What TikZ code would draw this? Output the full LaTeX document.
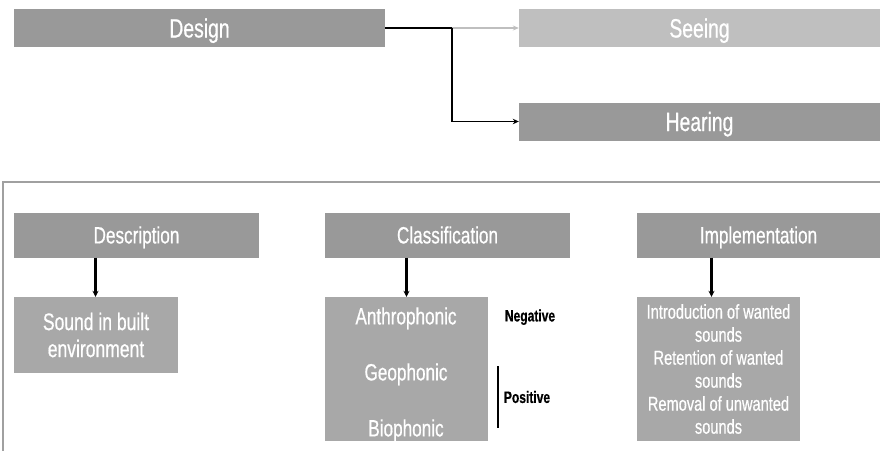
\documentclass[tikz,border=0pt]{standalone}
\usepackage{fontspec}
\setmainfont[FakeStretch=0.73, FakeBold=0.6]{Liberation Sans}
\usetikzlibrary{arrows.meta}
\definecolor{hdr}{HTML}{999999}
\definecolor{lst}{HTML}{A8A8A8}
\definecolor{lite}{HTML}{BFBFBF}
\definecolor{frm}{HTML}{A0A0A0}
\tikzset{
  box/.style={fill=hdr, draw=none, inner sep=0pt, text=white, align=center, text depth=0pt},
  bigbox/.style={box, text height=19pt, font=\fontsize{26.5}{30}\selectfont},
  headbox/.style={box, text height=16.8pt, minimum width=245pt, minimum height=45pt, font=\fontsize{23.5}{27}\selectfont},
  listbox/.style={fill=lst, draw=none, inner sep=0pt, text=white, align=center},
  item/.style={text height=16.8pt, text depth=0pt, text=white, inner sep=0pt, font=\fontsize{23.5}{27}\selectfont},
  tag/.style={text height=11.8pt, text depth=0pt, text=black, inner sep=0pt, font=\fontsize{16.5}{19}\selectfont\bfseries},
  conn/.style={line width=1.9pt, black},
  arr/.style={conn, -{Stealth[length=6pt,width=5.5pt]}},
  varr/.style={line width=2.2pt, black, -{Stealth[length=6pt,width=6pt]}}
}
\begin{document}
\begin{tikzpicture}[x=1pt,y=-1pt]
\useasboundingbox (0,0) rectangle (880,451);
% top part
\node[bigbox, minimum width=371pt, minimum height=38pt] (design) at (199.5,28) {Design};
\node[bigbox, fill=lite, minimum width=361pt, minimum height=38pt] (seeing) at (699.5,28) {Seeing};
\node[bigbox, minimum width=361pt, minimum height=38pt] (hearing) at (699.5,121.5) {Hearing};
\coordinate (j) at (452,28);
\draw[conn] (design.east) -- (j);
\draw[conn, lite, line width=1.4pt, -{Stealth[length=6pt,width=5pt]}] (j) -- (seeing.west);
\draw[arr] (j) -- (j |- hearing.west) -- (hearing.west);
% frame
\draw[frm, line width=1.2pt] (880,182) -- (3,182) -- (3,451);
% description
\node[headbox] (desc) at (136.5,235) {Description};
\node[listbox, minimum width=164pt, minimum height=76pt, font=\fontsize{24}{27}\selectfont] (sound) at (96,335) {Sound in built\\environment};
\coordinate (da) at ([xshift=-0.5pt]sound.north);
\draw[varr] (da |- desc.south) -- (da);
% classification
\node[headbox] (class) at (447.5,235) {Classification};
\node[listbox, minimum width=163pt, minimum height=144pt] (clist) at (406.5,369) {};
\node[item] (anthro) at (406,316) {Anthrophonic};
\node[item] (geo) at (406,372) {Geophonic};
\node[item] (bio) at (406,428) {Biophonic};
\draw[varr] (clist.north |- class.south) -- (clist.north);
\node[tag] (neg) at (530,315.5) {Negative};
\node[tag] (pos) at (527,397) {Positive};
\coordinate (pt) at (498,366);
\coordinate (pb) at (498,428);
\draw[line width=1.3pt] (pt) -- (pb);
% implementation
\node[headbox, minimum width=243pt] (impl) at (758.5,235) {Implementation};
\node[listbox, minimum width=163pt, minimum height=144pt, font=\fontsize{20}{23}\selectfont] (ilist) at (718.5,369) {Introduction of wanted\\sounds\\Retention of wanted\\sounds\\Removal of unwanted\\sounds};
\coordinate (ia) at ([xshift=-7pt]ilist.north);
\draw[varr] (ia |- impl.south) -- (ia);
\end{tikzpicture}
\end{document}
